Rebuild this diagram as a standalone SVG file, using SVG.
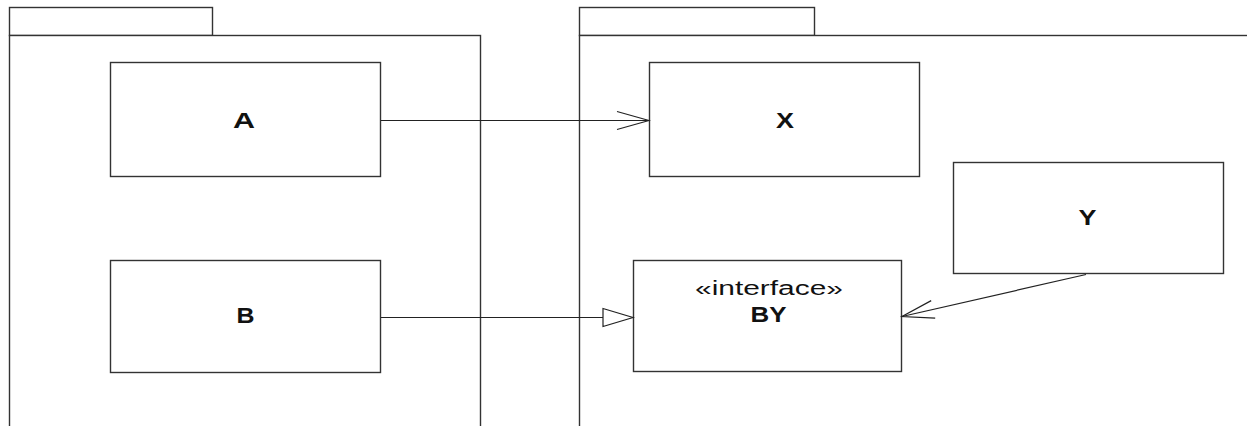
<svg xmlns="http://www.w3.org/2000/svg" width="1247" height="426" viewBox="0 0 1247 426">
  <style>
    .pkg, .cls { fill: #fff; stroke: #333; stroke-width: 1.4; }
    .edge { fill: none; stroke: #222; stroke-width: 1.2; }
    .name { font-family: "Liberation Sans", Arial, sans-serif; font-weight: bold; font-size: 22px; fill: #111; text-anchor: middle; }
    .stereo { font-family: "Liberation Sans", Arial, sans-serif; font-size: 20px; fill: #111; text-anchor: middle; }
  </style>
  <defs>
    <marker id="open" markerWidth="36" markerHeight="22" refX="34" refY="11" orient="auto" markerUnits="userSpaceOnUse">
      <path d="M2,2 L34,11 L2,20" fill="none" stroke="#222" stroke-width="1.2"/>
    </marker>
    <marker id="hollow" markerWidth="34" markerHeight="22" refX="32" refY="11" orient="auto" markerUnits="userSpaceOnUse">
      <path d="M2,2 L32,11 L2,20 Z" fill="#fff" stroke="#222" stroke-width="1.2"/>
    </marker>
  </defs>

  <rect width="1247" height="426" fill="#fff"/>

  <!-- packages -->
  <g id="pkg-left">
    <rect class="pkg" x="9.5" y="7.5" width="203" height="28"/>
    <rect class="pkg" x="9.5" y="35.5" width="471" height="400"/>
  </g>
  <g id="pkg-right">
    <rect class="pkg" x="579.5" y="7.5" width="235" height="28"/>
    <rect class="pkg" x="579.5" y="35.5" width="680" height="400"/>
  </g>

  <!-- classes -->
  <g id="node-A">
    <rect class="cls" x="110.5" y="62.5" width="270" height="114"/>
    <text class="name" x="244" y="128" textLength="22" lengthAdjust="spacingAndGlyphs">A</text>
  </g>
  <g id="node-X">
    <rect class="cls" x="649.5" y="62.5" width="270" height="114"/>
    <text class="name" x="785" y="128" textLength="18" lengthAdjust="spacingAndGlyphs">X</text>
  </g>
  <g id="node-Y">
    <rect class="cls" x="953.5" y="162.5" width="270" height="111"/>
    <text class="name" x="1087.5" y="225" textLength="18" lengthAdjust="spacingAndGlyphs">Y</text>
  </g>
  <g id="node-B">
    <rect class="cls" x="110.5" y="260.5" width="270" height="112"/>
    <text class="name" x="245.5" y="323" textLength="18" lengthAdjust="spacingAndGlyphs">B</text>
  </g>
  <g id="node-BY">
    <rect class="cls" x="633.5" y="260.5" width="268" height="111"/>
    <text class="stereo" x="769" y="295" textLength="148" lengthAdjust="spacingAndGlyphs">«interface»</text>
    <text class="name" x="768.5" y="322" font-size="21" textLength="36" lengthAdjust="spacingAndGlyphs">BY</text>
  </g>

  <!-- connectors -->
  <g id="connectors">
    <line class="edge" x1="381" y1="120.5" x2="649" y2="120.5" marker-end="url(#open)"/>
    <line class="edge" x1="381" y1="317.5" x2="633" y2="317.5" marker-end="url(#hollow)"/>
    <line class="edge" x1="1086" y1="274.5" x2="902" y2="316.5" marker-end="url(#open)"/>
  </g>
</svg>
